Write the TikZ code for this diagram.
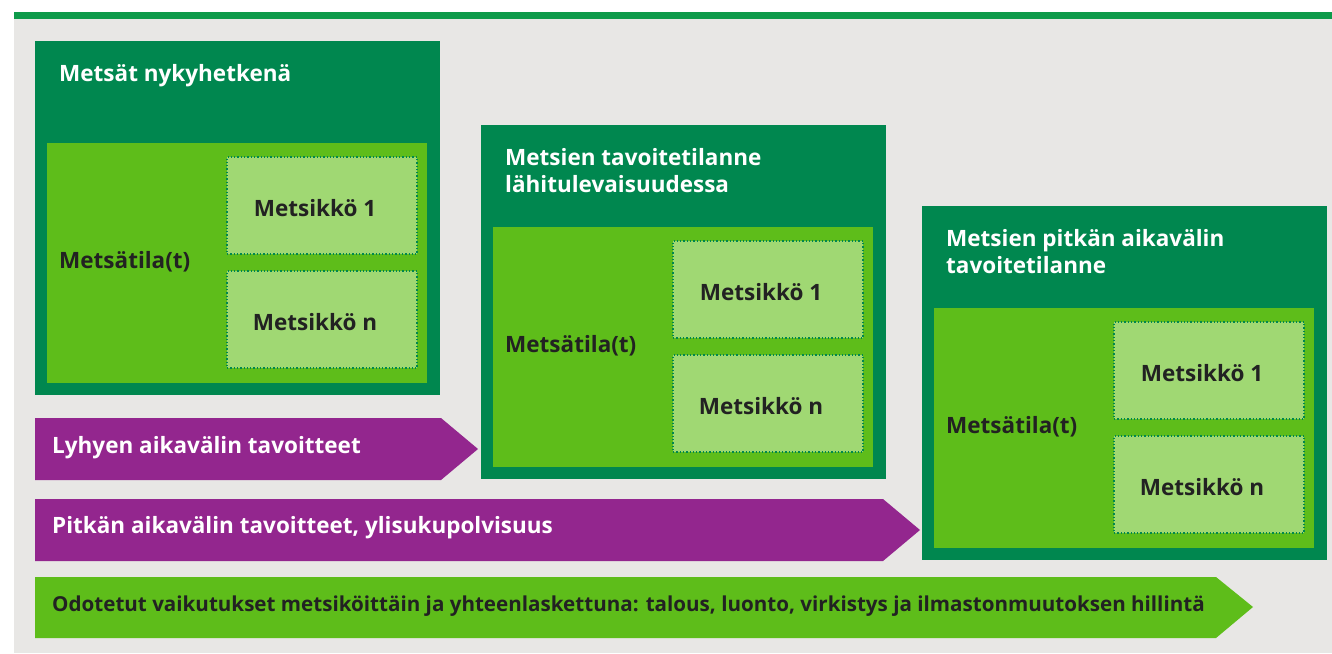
\documentclass[tikz,border=0pt]{standalone}
\usepackage{fontspec}
\setmainfont{Open Sans}
\usepackage{tikz}
\usetikzlibrary{positioning, calc}
\definecolor{forestdeep}{HTML}{00874F}
\definecolor{leafgreen}{HTML}{5EBD1A}
\definecolor{palegreen}{HTML}{A0D873}
\definecolor{plum}{HTML}{93268E}
\definecolor{mist}{HTML}{E8E7E5}
\definecolor{topline}{HTML}{0E9A4A}
\definecolor{inkdark}{HTML}{222222}

\tikzset{
  boxfont/.style={font=\fontsize{22.5}{27}\selectfont\bfseries},
  smallfont/.style={font=\fontsize{20.6}{25}\selectfont\bfseries},
  panel/.style={fill=forestdeep, anchor=north west, inner sep=0pt, outer sep=0pt,
    minimum width=405, minimum height=354},
  stateinner/.style={fill=leafgreen, anchor=north west, inner sep=0pt, outer sep=0pt,
    minimum width=380, minimum height=240},
  standbox/.style={fill=palegreen, draw=forestdeep, dotted, line width=1.3pt,
    anchor=north west, inner sep=0pt, outer sep=0pt,
    minimum width=190, minimum height=97},
  standlabel/.style={boxfont, text=inkdark, inner sep=0pt},
}

\begin{document}
\begin{tikzpicture}[x=1pt, y=-1pt]
  \useasboundingbox (0,0) rectangle (1332,653);
  % background and top rule
  \fill[mist] (14,19) rectangle (1332,653);
  \fill[topline] (14,12) rectangle (1332,19);
  % the three forest state panels
  \foreach \px/\py/\ptitle/\pid in {
    35/41/{Metsät nykyhetkenä}/now,
    481/125/{Metsien tavoitetilanne\\lähitulevaisuudessa}/near,
    922/206/{Metsien pitkän aikavälin\\tavoitetilanne}/far
  }{
    \node[panel] (\pid) at (\px,\py) {};
    \node[boxfont, text=white, anchor=north west, align=left, inner sep=0pt]
      (\pid-title) at (\px+24,\py+23) {\ptitle};
    \node[stateinner] (\pid-inner) at (\px+12,\py+102) {};
    \node[standbox] (\pid-one) at (\px+192,\py+116) {};
    \node[standlabel] at ([xshift=-7,yshift=-3]\pid-one.center) {Metsikkö 1};
    \node[standbox] (\pid-n) at (\px+192,\py+230) {};
    \node[standlabel] at ([xshift=-7,yshift=-3]\pid-n.center) {Metsikkö n};
    \node[boxfont, text=inkdark, anchor=west, inner sep=0pt]
      (\pid-estate) at (\px+24,\py+221) {Metsätila(t)};
  }
  % goal and impact arrows
  \fill[plum] (35,418) -- (441,418) -- (478,449) -- (441,480) -- (35,480) -- cycle;
  \node[boxfont, text=white, anchor=west, inner sep=0pt] (shortgoal)
    at (52,448) {Lyhyen aikavälin tavoitteet};
  \fill[plum] (35,499) -- (883,499) -- (920,530) -- (883,561) -- (35,561) -- cycle;
  \node[boxfont, text=white, anchor=west, inner sep=0pt] (longgoal)
    at (52,528) {Pitkän aikavälin tavoitteet, ylisukupolvisuus};
  \fill[leafgreen] (35,577) -- (1216,577) -- (1253,607) -- (1216,638) -- (35,638) -- cycle;
  \node[smallfont, text=inkdark, anchor=west, inner sep=0pt] (impacts)
    at (52,606) {Odotetut vaikutukset metsiköittäin ja yhteenlaskettuna: talous, luonto, virkistys ja ilmastonmuutoksen hillintä};
\end{tikzpicture}
\end{document}
